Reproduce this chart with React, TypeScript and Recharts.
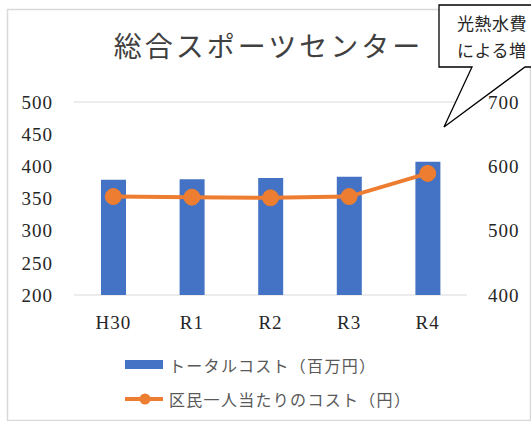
import React from 'react';
import { ComposedChart, Bar, Line, XAxis, YAxis, CartesianGrid, Legend } from 'recharts';

const years = ['H30', 'R1', 'R2', 'R3', 'R4'];
const totalCost = [379, 380, 382, 384, 407];
const perCapitaCost = [553, 552, 551, 553, 589];
const leftTicks = [200, 250, 300, 350, 400, 450, 500];
const rightTicks = [400, 500, 600, 700];

const BLUE = '#4472C4';
const ORANGE = '#ED7D31';
const SERIF = "'Liberation Serif', 'Noto Sans CJK JP', serif";
const JP = "'Noto Sans CJK JP', 'Liberation Serif', sans-serif";

const data = years.map((y, i) => ({ year: y, total: totalCost[i], perCapita: perCapitaCost[i] }));

function LegendBox({ payload }: any) {
  const items = payload || [];
  return (
    <div style={{ fontFamily: JP, fontSize: 16, letterSpacing: 1.3, color: '#595959' }}>
      {items.map((it: any) => (
        <div key={it.value} style={{ display: 'flex', alignItems: 'center', height: 34 }}>
          <svg width={46} height={20} style={{ flex: 'none' }}>
            {it.type === 'rect' ? (
              <rect x={2} y={5} width={38} height={9} fill={it.color} />
            ) : (
              <g>
                <line x1={2} y1={10} x2={40} y2={10} stroke={it.color} strokeWidth={4} />
                <circle cx={22} cy={10} r={5.5} fill={it.color} />
              </g>
            )}
          </svg>
          <span>{it.value}</span>
        </div>
      ))}
    </div>
  );
}

export default function App() {
  const legendPayload = [
    { value: 'トータルコスト（百万円）', type: 'rect', color: BLUE },
    { value: '区民一人当たりのコスト（円）', type: 'line', color: ORANGE },
  ];
  return (
    <div style={{ position: 'absolute', left: 0, top: 0, width: 531, height: 421, background: '#fff', overflow: 'hidden' }}>
      <svg width={531} height={421} style={{ position: 'absolute', left: 0, top: 0 }}>
        <rect x={7.5} y={9.5} width={523} height={411} fill="#fff" stroke="#d9d9d9" strokeWidth={1.5} />
        <text x={268.5} y={57} textAnchor="middle" fontFamily={JP} fontSize={28} letterSpacing={3} fill="#404040">
          総合スポーツセンター
        </text>
      </svg>
      <div style={{ position: 'absolute', left: 0, top: 0 }}>
        <ComposedChart width={531} height={421} data={data} margin={{ top: 102, right: 0, bottom: 86, left: 0 }}>
          <CartesianGrid vertical={false} stroke="#d9d9d9" strokeWidth={1.2} />
          <XAxis
            dataKey="year"
            axisLine={false}
            tickLine={false}
            height={40}
            tickMargin={15}
            tick={{ fontFamily: SERIF, fontSize: 19, letterSpacing: 1, fill: '#262626' }}
          />
          <YAxis
            yAxisId="left"
            domain={[200, 500]}
            ticks={leftTicks}
            axisLine={false}
            tickLine={false}
            width={74}
            tickMargin={15}
            tick={{ fontFamily: SERIF, fontSize: 19, letterSpacing: 1, fill: '#262626' }}
          />
          <YAxis
            yAxisId="right"
            orientation="right"
            domain={[400, 700]}
            ticks={rightTicks}
            axisLine={false}
            tickLine={false}
            width={64}
            tickMargin={15}
            tick={{ fontFamily: SERIF, fontSize: 19, letterSpacing: 1, fill: '#262626' }}
          />
          <Bar yAxisId="left" dataKey="total" fill={BLUE} barSize={25} isAnimationActive={false} />
          <Line
            yAxisId="right"
            dataKey="perCapita"
            stroke={ORANGE}
            strokeWidth={4}
            dot={{ r: 8, fill: ORANGE, stroke: ORANGE, strokeWidth: 1 }}
            activeDot={false}
            isAnimationActive={false}
          />
          <Legend
            layout="vertical"
            align="center"
            verticalAlign="middle"
            wrapperStyle={{ left: 123, top: 348, width: 340 }}
            content={() => <LegendBox payload={legendPayload} />}
          />
        </ComposedChart>
      </div>
      <svg width={531} height={421} style={{ position: 'absolute', left: 0, top: 0, pointerEvents: 'none' }}>
        <path
          d="M439,5 H545 V67 H525 L444,127 L472,67 H439 Z"
          fill="#fff"
          stroke="#000"
          strokeWidth={1.3}
        />
        <text x={457} y={30} fontFamily={JP} fontSize={17} letterSpacing={0.5} fill="#262626">
          光熱水費
        </text>
        <text x={457} y={57} fontFamily={JP} fontSize={17} letterSpacing={0.5} fill="#262626">
          による増
        </text>
      </svg>
    </div>
  );
}
